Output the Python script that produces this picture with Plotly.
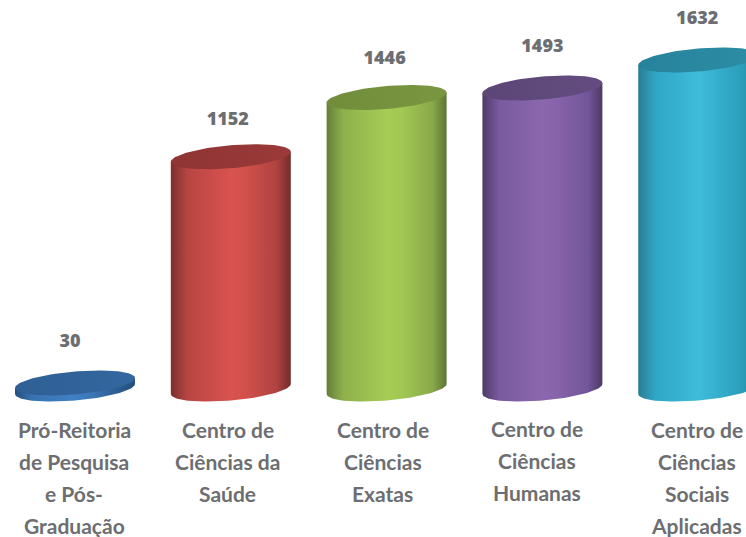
import numpy as np
import plotly.graph_objects as go

# values
values = [30, 1152, 1446, 1493, 1632]
label_lines = [
    ["Pró-Reitoria", "de Pesquisa", "e Pós-", "Graduação"],
    ["Centro de", "Ciências da", "Saúde"],
    ["Centro de", "Ciências", "Exatas"],
    ["Centro de", "Ciências", "Humanas"],
    ["Centro de", "Ciências", "Sociais", "Aplicadas"],
]

# shading across each cylinder, left to right
shade_stops = [0, 0.14, 0.5, 0.62, 0.88, 1]
body_shades = [
    ["#234f7d", "#3a72b0", "#4080c4", "#3c78b8", "#2b5a8e", "#234f7d"],
    ["#7a2f2e", "#b84543", "#d9534f", "#d2504c", "#b04341", "#722c2b"],
    ["#63803a", "#8fb04c", "#a6cc55", "#a2c854", "#8aa94a", "#5c7534"],
    ["#4e3a68", "#7a5a9e", "#8b68ae", "#8763aa", "#72569a", "#4c3966"],
    ["#2a7d94", "#2fa5c4", "#3fbcdb", "#38b3d1", "#2a9cb8", "#27768c"],
]
top_shades = [
    ["#2f5f95", "#33679f"],
    ["#8f3534", "#9a3938"],
    ["#718d3b", "#7a9640"],
    ["#5c4676", "#644c80"],
    ["#27839b", "#2c8da5"],
]

# small pixel nudges of the texts, as placed in the source
value_dx = [-5, -3, -2, 0, -1]
value_gap = [40, 36, 38, 41, 40]
label_dx = [-1, -3, -4, -5.5, -1.5]

WIDTH, HEIGHT = 746, 537
PX_PER_UNIT = 0.2016    # vertical scale
BASE_PX = 389           # pixel row of value 0
HALF_W = 0.385          # cylinder half width, category units
ELL_B = 11.5 / PX_PER_UNIT
ELL_TILT = 5.0 / PX_PER_UNIT
STEP_PX = 155.8
FIRST_PX = 75

t = np.linspace(0, 2 * np.pi, 121)


def body_scale(colors):
    return [[s, c] for s, c in zip(shade_stops, colors)]


def top_scale(colors):
    return [[k / (len(colors) - 1), c] for k, c in enumerate(colors)]


fig = go.Figure()

for i, v in enumerate(values):
    # bottom arc, left to right, then back along the top rim
    a = np.linspace(np.pi, 0, 61)
    bx = i + HALF_W * np.cos(a)
    by = -ELL_B * np.sin(a) + ELL_TILT * np.cos(a)
    tx = i + HALF_W * np.cos(a[::-1])
    ty = v + ELL_TILT * np.cos(a[::-1])
    fig.add_trace(go.Scatter(
        x=np.r_[bx, tx],
        y=np.r_[by, ty],
        mode="lines",
        line=dict(width=0),
        fill="toself",
        fillgradient=dict(
            type="horizontal",
            colorscale=body_scale(body_shades[i]),
            start=i - HALF_W,
            stop=i + HALF_W,
        ),
        hoverinfo="skip",
        showlegend=False,
    ))
    fig.add_trace(go.Scatter(
        x=i + HALF_W * np.cos(t),
        y=v + ELL_B * np.sin(t) + ELL_TILT * np.cos(t),
        mode="lines",
        line=dict(width=0),
        fill="toself",
        fillgradient=dict(
            type="horizontal",
            colorscale=top_scale(top_shades[i]),
            start=i - HALF_W,
            stop=i + HALF_W,
        ),
        hoverinfo="skip",
        showlegend=False,
    ))

# value labels sit above each cylinder
fig.add_trace(go.Scatter(
    x=[i + dx / STEP_PX for i, dx in enumerate(value_dx)],
    y=[v + g / PX_PER_UNIT for v, g in zip(values, value_gap)],
    mode="text",
    text=[str(v) for v in values],
    textposition="middle center",
    textfont=dict(family="Open Sans", size=18, color="#6d6e71", weight=800),
    hoverinfo="skip",
    showlegend=False,
))

# one annotation per line: the source leading is wider than plotly's <br>
for i, lines in enumerate(label_lines):
    top = 428 if i == 3 else 429
    for j, line in enumerate(lines):
        fig.add_annotation(
            x=i,
            xshift=label_dx[i],
            y=1 - (top + j * 32) / HEIGHT,
            yref="paper",
            text=line,
            showarrow=False,
            yanchor="middle",
            font=dict(family="Lato", size=21, color="#6d6e71", weight=700),
        )

fig.update_layout(
    width=WIDTH,
    height=HEIGHT,
    margin=dict(l=0, r=0, t=0, b=0),
    paper_bgcolor="white",
    plot_bgcolor="white",
    showlegend=False,
    xaxis=dict(
        visible=False,
        range=[-FIRST_PX / STEP_PX, (WIDTH - FIRST_PX) / STEP_PX],
        fixedrange=True,
    ),
    yaxis=dict(
        visible=False,
        range=[(BASE_PX - HEIGHT) / PX_PER_UNIT, BASE_PX / PX_PER_UNIT],
        fixedrange=True,
    ),
)

# the page's default body margin would push the figure off by 8px
fig.write_html(
    "out.html",
    config=dict(displayModeBar=False),
    post_script="document.body.style.margin = '0';",
)
